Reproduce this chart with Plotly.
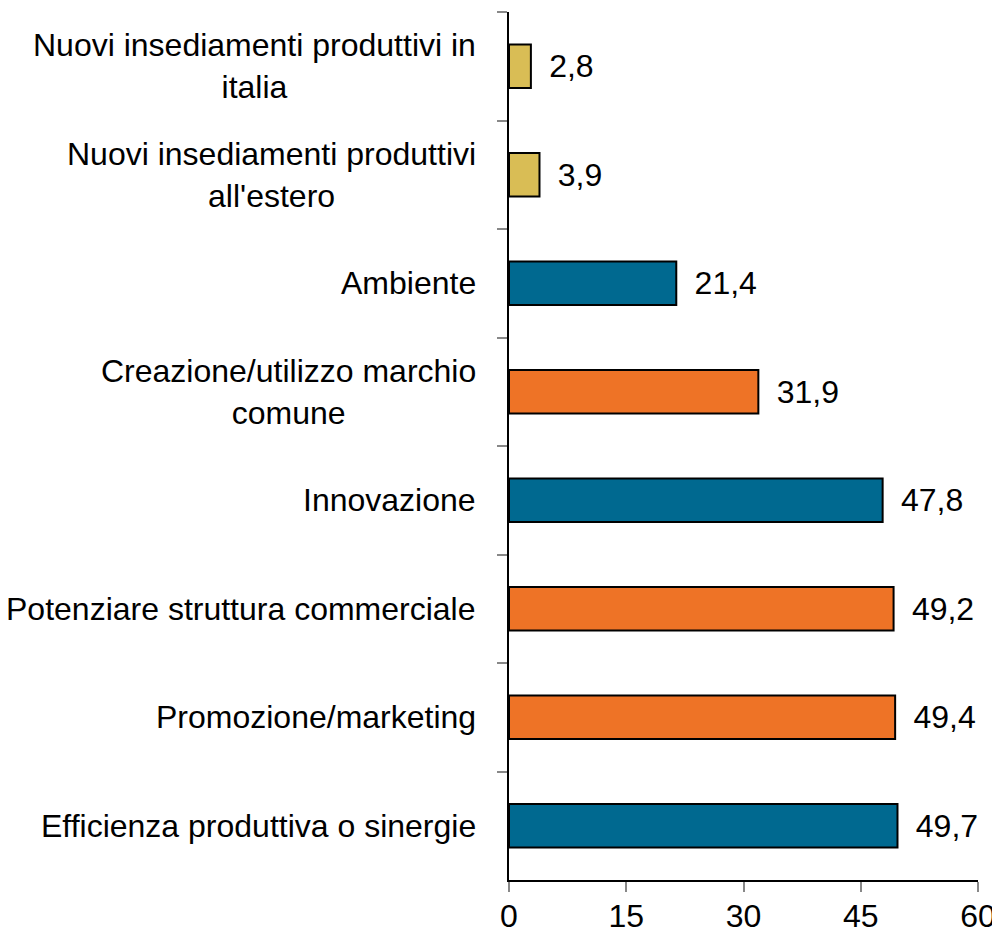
import plotly.graph_objects as go

# Data, top to bottom as in the chart
categorie = [
    "Nuovi insediamenti produttivi in<br>italia",
    "Nuovi insediamenti produttivi<br>all'estero",
    "Ambiente",
    "Creazione/utilizzo marchio<br>comune",
    "Innovazione",
    "Potenziare struttura commerciale",
    "Promozione/marketing",
    "Efficienza produttiva o sinergie",
]
valori = [2.8, 3.9, 21.4, 31.9, 47.8, 49.2, 49.4, 49.7]
gruppi = ["insediamenti", "insediamenti", "produzione", "mercato",
          "produzione", "mercato", "mercato", "produzione"]
x_ticks = [0, 15, 30, 45, 60]

COLORS = {
    'insediamenti': '#D9BD55',
    'produzione': '#006990',
    'mercato': '#EE7326',
}
FONT = "Liberation Sans, Arial, sans-serif"

fig = go.Figure()
fig.add_trace(
    go.Bar(
        x=valori,
        y=categorie,
        orientation='h',
        marker=dict(color=[COLORS[g] for g in gruppi],
                    line=dict(color='black', width=2)),
        texttemplate="\u00a0\u2009%{x:.1f}",
        textposition='outside',
        textfont=dict(family=FONT, size=32, color='black'),
        cliponaxis=False,
        width=0.4,
        hoverinfo='x+y',
    )
)

# Category labels, centred multi-line like the original
for cat in categorie:
    fig.add_annotation(
        xref='paper', yref='y',
        x=0, y=cat,
        xanchor='right', yanchor='middle',
        xshift=-31,
        text=cat,
        align='center',
        showarrow=False,
        font=dict(family=FONT, size=32, color='black'),
    )

# page body has an 8px margin, so the figure is sized to fit the window
fig.update_layout(
    width=992, height=924,
    template='plotly_white',
    plot_bgcolor='white',
    paper_bgcolor='white',
    separators=',.',
    showlegend=False,
    margin=dict(l=501, r=22, t=4, b=52),
    font=dict(family=FONT, size=32, color='black'),
)
fig.update_xaxes(
    range=[0, 60],
    tickvals=x_ticks,
    showgrid=False,
    zeroline=False,
    automargin=False,
    showline=True, linecolor='black', linewidth=1.5,
    ticks='outside', ticklen=10, tickcolor='#888888', tickwidth=1.5,
    ticklabelstandoff=-3,
    tickfont=dict(family=FONT, size=32, color='black'),
)
fig.update_yaxes(
    autorange='reversed',
    showgrid=False,
    zeroline=False,
    automargin=False,
    showline=True, linecolor='black', linewidth=1.5,
    ticks='outside', ticklen=10, tickcolor='#888888', tickwidth=1.5,
    tickson='boundaries',
    showticklabels=False,
)

fig.write_html("out.html")
